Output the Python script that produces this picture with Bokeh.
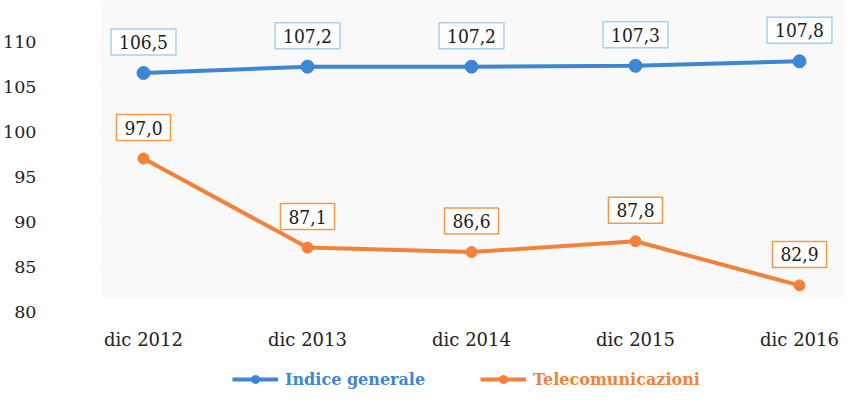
from bokeh.plotting import figure
from bokeh.models import Range1d, FixedTicker, Label, Legend, LegendItem, BoxAnnotation
from bokeh.core.properties import value
from bokeh.embed import file_html
from bokeh.resources import INLINE

categories = ["dic 2012", "dic 2013", "dic 2014", "dic 2015", "dic 2016"]
indice_generale = [106.5, 107.2, 107.2, 107.3, 107.8]
telecomunicazioni = [97.0, 87.1, 86.6, 87.8, 82.9]
y_ticks = [80, 85, 90, 95, 100, 105, 110]

BLUE = "#3d86d6"
ORANGE = "#f2823a"
BLUE_BOX = "#a6d0f2"
ORANGE_BOX = "#f29a48"
SERIF = "DejaVu Serif"
SERIF_C = "DejaVu Serif Condensed"

xs = list(range(len(categories)))

# layout (pixels inside the figure)
W, H = 844, 389
LEFT = 100
X_FIRST, X_LAST = 143, 799
Y_110, PX_PER_UNIT = 41, 9.0

step = (X_LAST - X_FIRST) / (len(xs) - 1)
x_lo = -(X_FIRST - LEFT) / step
x_hi = (len(xs) - 1) + (W - X_LAST) / step
y_top = 110 + Y_110 / PX_PER_UNIT
y_min = y_top - H / PX_PER_UNIT

p = figure(width=W, height=H, output_backend="svg", toolbar_location=None,
           x_range=Range1d(x_lo, x_hi), y_range=Range1d(y_min, y_top),
           min_border_left=LEFT, min_border_right=0, min_border_top=0, min_border_bottom=0)
p.outline_line_color = None
p.background_fill_color = "white"
p.border_fill_color = "white"
p.xaxis.visible = False

p.add_layout(BoxAnnotation(bottom=81.6, fill_color="#f9f9f9", fill_alpha=1,
                           line_color=None, level="underlay"))

# y axis
p.yaxis.ticker = FixedTicker(ticks=y_ticks)
p.yaxis.axis_line_color = None
p.yaxis.major_tick_line_color = None
p.yaxis.minor_tick_line_color = None
p.yaxis.major_label_text_font = SERIF
p.yaxis.major_label_text_color = "#222222"
p.yaxis.major_label_text_font_size = "17.5px"
p.yaxis.major_label_standoff = 58

p.xgrid.grid_line_color = None
p.ygrid.ticker = FixedTicker(ticks=[t for t in y_ticks if t > 80])
p.ygrid.grid_line_color = "#c4c4c4"
p.ygrid.grid_line_width = 1.5

# category labels under the plot area
p.text(x=xs, y=[y_ticks[0]] * len(xs), text=categories, y_offset=28,
       text_align="center", text_baseline="middle", text_font=value(SERIF),
       text_font_size="18px", text_color="#222222")

# series
l1 = p.line(xs, indice_generale, line_color=BLUE, line_width=4)
s1 = p.scatter(xs, indice_generale, size=13, fill_color=BLUE, line_color=BLUE)
l2 = p.line(xs, telecomunicazioni, line_color=ORANGE, line_width=4)
s2 = p.scatter(xs, telecomunicazioni, size=11, fill_color=ORANGE, line_color=ORANGE)

# data labels
for vals, bc in ((indice_generale, BLUE_BOX), (telecomunicazioni, ORANGE_BOX)):
    for i, v in zip(xs, vals):
        p.add_layout(Label(x=i, y=v, y_offset=31, text=f"{v:.1f}".replace(".", ","),
                           text_align="center", text_baseline="middle",
                           text_font=SERIF_C, text_font_size="19px", text_color="#1a1a1a",
                           background_fill_color="white", border_line_color=bc,
                           border_line_width=1.5,
                           padding=dict(left=8, right=8, top=6, bottom=6)))

# legends
for rends, label, color, xloc in (([l1, s1], "Indice generale", BLUE, 132),
                                  ([l2, s2], "Telecomunicazioni", ORANGE, 380)):
    lg = Legend(items=[LegendItem(label=label, renderers=rends)],
                location=(xloc, 0), orientation="horizontal",
                padding=0, margin=0, glyph_width=46, glyph_height=20,
                label_height=20, label_standoff=7,
                label_text_font=SERIF, label_text_font_size="16px",
                label_text_font_style="bold", label_text_color=color,
                border_line_color=None, background_fill_alpha=0)
    p.add_layout(lg, "center")

open("out.html", "w").write(file_html(p, INLINE))
